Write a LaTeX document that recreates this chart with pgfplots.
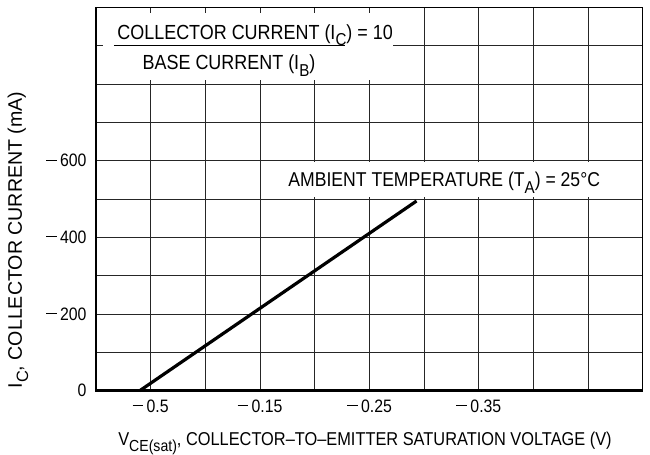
\documentclass[border=0pt]{standalone}
\usepackage{pgfplots}
\pgfplotsset{compat=1.18}
\usepackage{fontspec}
\setmainfont{Liberation Sans}[FakeStretch=0.88]
\newfontfamily\plainsans{Liberation Sans}
\newcommand\sub[2]{\raisebox{-0.32em}{\fontsize{#1}{#1}\selectfont #2}}
\newcommand\mn{\raisebox{0.34em}{\rule{5.4pt}{0.5pt}}\kern1.6pt}
\begin{document}
\begin{tikzpicture}
\path[use as bounding box] (-48pt,-32.15pt) rectangle (277pt,195.35pt);
\begin{axis}[
  at={(0,0)}, anchor=south west,
  scale only axis, width=273.5pt, height=191.6pt,
  xmin=-0.5, xmax=0, ymin=-1000, ymax=0,
  x dir=reverse, y dir=reverse,
  xtick={-0.05,-0.15,-0.25,-0.35},
  xticklabels={\mn 0.5,\mn 0.15,\mn 0.25,\mn 0.35},
  minor xtick={-0.1,-0.2,-0.3,-0.4,-0.45},
  ytick={0,-200,-400,-600},
  yticklabels={0,\mn 200,\mn 400,\mn 600},
  minor ytick={-100,-300,-500,-700,-800,-900},
  grid=both,
  major grid style={black!85, line width=0.5pt},
  minor grid style={black!85, line width=0.5pt},
  major tick length=0pt, minor tick length=0pt,
  tick style={draw=none},
  axis line style={black, line width=0.5pt},
  ticklabel style={font=\fontsize{9}{10}\selectfont},
  yticklabel style={xshift=-1.2pt},
  xticklabel style={yshift=-1pt},
  clip=false,
]
\addplot[black, line width=1.6pt] coordinates {(-0.04,0) (-0.293,-495)};
\end{axis}
% thick left and bottom axis lines
\draw[line width=1.3pt] (0,191.6pt) -- (0,0) -- (273.5pt,0);
% annotation: ratio
\fill[white] (3.5pt,155.35pt) rectangle (148.5pt,188.85pt);
\draw[line width=0.5pt] (9pt,172.35pt) -- (124.5pt,172.35pt);
\node[anchor=base west, inner sep=0pt, font=\fontsize{10.2}{11}\selectfont] at (10.5pt,175.7pt) {COLLECTOR CURRENT (I\sub{8.6}{C}) = 10};
\node[anchor=base, inner sep=0pt, font=\fontsize{10.2}{11}\selectfont] at (66.5pt,160.35pt) {BASE CURRENT (I\sub{8.6}{B})};
% annotation: ambient
\fill[white] (94.5pt,96.6pt) rectangle (252pt,114.1pt);
\node[anchor=base west, inner sep=0pt, font=\fontsize{10}{11}\selectfont] at (96pt,102pt) {AMBIENT TEMPERATURE (T\sub{8.6}{A}) = 25°C};
% axis labels
\node[rotate=90, anchor=center, inner sep=0pt, font=\plainsans\fontsize{9.8}{10}\selectfont] at (-39pt,75.35pt) {I\sub{8.2}{C}, COLLECTOR CURRENT (mA)};
\node[anchor=base, inner sep=0pt, font=\fontsize{9.3}{10}\selectfont] at (134.5pt,-27.6pt) {V\sub{8}{CE(sat)}, COLLECTOR–TO–EMITTER SATURATION VOLTAGE (V)};
\end{tikzpicture}
\end{document}
